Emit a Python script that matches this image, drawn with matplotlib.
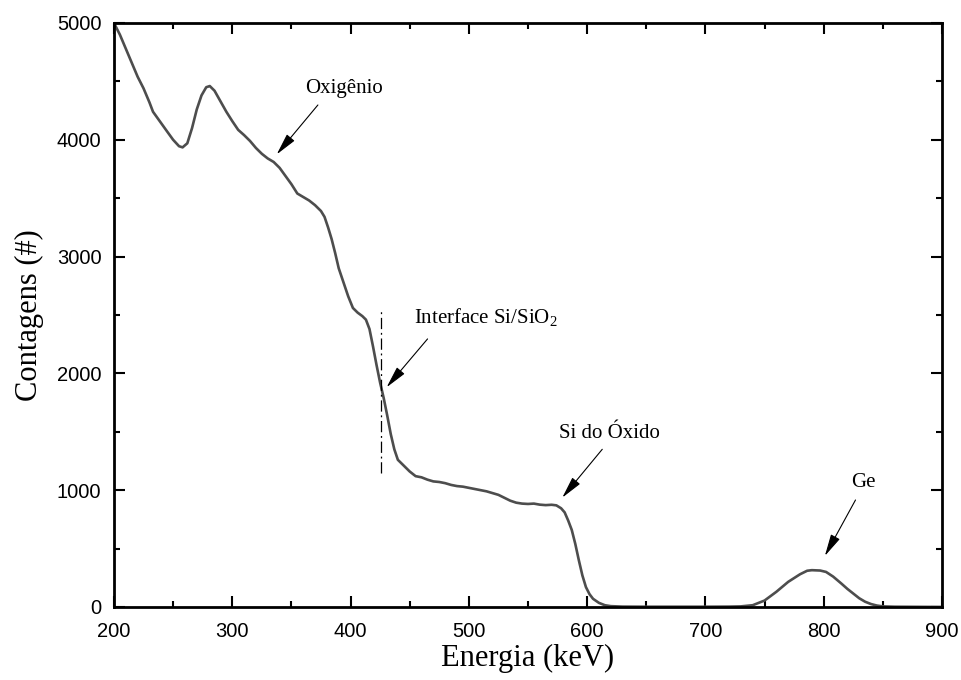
import numpy as np
import matplotlib
matplotlib.use("Agg")
import matplotlib.pyplot as plt

# --- data ---
energy = [200, 205, 210, 213.5, 220, 225, 230, 233, 239, 245, 250, 255, 258, 262, 266,
          270, 274, 278, 281, 285, 290, 295, 300, 305, 310, 315, 320, 325, 330, 335,
          340, 345, 350, 355, 360, 365, 370, 375, 378, 381, 384, 387, 390, 394, 398,
          402, 406, 410, 413, 416, 419, 422, 425, 428, 431, 434, 437, 440, 445, 450,
          455, 460, 465, 470, 475, 480, 485, 490, 495, 500, 505, 510, 515, 520, 525,
          530, 535, 540, 545, 550, 555, 560, 565, 570, 574, 578, 581, 584, 587, 590,
          593, 596, 599, 602, 605, 610, 615, 620, 630, 650, 700, 720, 730, 740, 750,
          760, 770, 780, 786, 790, 797, 802, 808, 815, 820, 825, 830, 835, 840, 845,
          850, 860, 900]
counts = [5000, 4900, 4780, 4696, 4540, 4440, 4320, 4240, 4155, 4070, 4000, 3945, 3935, 3970, 4100,
          4260, 4380, 4450, 4460, 4420, 4330, 4240, 4160, 4085, 4040, 3990, 3930, 3880, 3840, 3810,
          3760, 3690, 3620, 3540, 3510, 3480, 3440, 3390, 3340, 3250, 3150, 3030, 2900, 2780, 2660,
          2560, 2520, 2490, 2460, 2380, 2230, 2070, 1920, 1790, 1640, 1480, 1350, 1260, 1210, 1160,
          1120, 1110, 1090, 1075, 1070, 1060, 1045, 1035, 1030, 1020, 1010, 1000, 990, 975, 960,
          935, 910, 893, 885, 882, 885, 876, 872, 875, 870, 845, 810, 740, 660, 540,
          400, 270, 170, 110, 70, 35, 15, 7, 3, 2, 2, 3, 5, 15, 55,
          130, 215, 280, 310, 315, 312, 300, 260, 200, 155, 115, 75, 45, 25, 12,
          5, 2, 0]

# interface marker (dash-dot line)
interface_energy = 426
interface_range = [1150, 2530]

# annotations: text, text position (left/baseline), arrow tail, arrow head
labels = ["Oxigênio", r"Interface Si/SiO$\mathregular{_2}$", "Si do Óxido", "Ge"]
text_pos = [(361.5, 4398), (453.6, 2429), (576.4, 1444), (823.6, 1025)]
arrow_tail = [(372.4, 4298), (465.1, 2295), (612.8, 1350), (826.9, 916)]
arrow_head = [(337.6, 3875), (430.5, 1881), (579.0, 936), (801.0, 437)]

plt.rcParams['mathtext.fontset'] = 'custom'
plt.rcParams['mathtext.rm'] = 'Liberation Serif'

fig = plt.figure(figsize=(9.61, 6.8), dpi=100)
ax = fig.add_axes([0.1186, 0.1074, 0.8616, 0.8588])

ax.plot(energy, counts, color='#4d4d4d', lw=1.9, solid_joinstyle='round')
ax.plot([interface_energy, interface_energy], interface_range, color='black',
        lw=0.9, linestyle=(0, (9, 3, 1.5, 3)))

for lab, tp, tail, head in zip(labels, text_pos, arrow_tail, arrow_head):
    ax.text(tp[0], tp[1], lab, family='Liberation Serif', fontsize=15,
            ha='left', va='baseline')
    ax.annotate('', xy=head, xytext=tail,
                arrowprops=dict(arrowstyle='-|>,head_length=0.75,head_width=0.17',
                                color='black', lw=0.8, mutation_scale=18,
                                shrinkA=0, shrinkB=0))

# --- axes formatting ---
ax.set_xlim(200, 900)
ax.set_ylim(0, 5000)
ax.set_xticks(np.arange(200, 901, 100))
ax.set_xticks(np.arange(250, 900, 100), minor=True)
ax.set_yticks(np.arange(0, 5001, 1000))
ax.set_yticks(np.arange(500, 5000, 1000), minor=True)

for s in ax.spines.values():
    s.set_linewidth(2)
ax.tick_params(which='both', direction='in', top=True, right=True, width=1.5)
ax.tick_params(which='major', length=8)
ax.tick_params(which='minor', length=4.5)
ax.tick_params(axis='x', pad=11)
ax.tick_params(axis='y', pad=9)
for t in ax.get_xticklabels() + ax.get_yticklabels():
    t.set_fontfamily('Liberation Sans')
    t.set_fontsize(14.5)

ax.set_xlabel("Energia (keV)", family='Liberation Serif', fontsize=22, labelpad=2)
ax.set_ylabel("Contagens (#)", family='Liberation Serif', fontsize=22, labelpad=9)

fig.savefig("out.png", dpi=100)
